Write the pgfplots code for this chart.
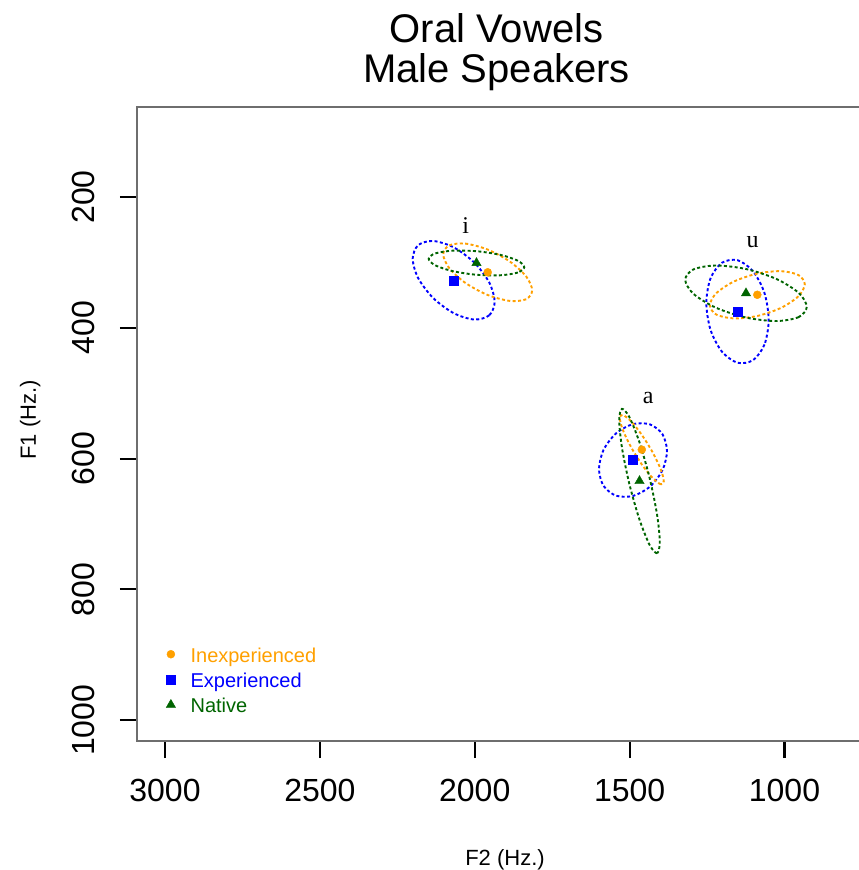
\documentclass[border=0pt]{standalone}
\usepackage{fontspec}
\setmainfont{Liberation Sans}
\newfontfamily\seriffont{Liberation Serif}
\usepackage{pgfplots}
\pgfplotsset{compat=1.18}
\definecolor{rorange}{RGB}{255,160,0}
\definecolor{rblue}{RGB}{0,0,255}
\definecolor{rgreen}{RGB}{0,100,0}
\definecolor{rframe}{RGB}{110,110,110}
\begin{document}
\begin{tikzpicture}[x=1pt,y=1pt]
\begin{axis}[
  at={(0pt,0pt)}, anchor=south west,
  scale only axis, width=722pt, height=634.3pt,
  x dir=reverse, y dir=reverse,
  xmin=759.5, xmax=3090.4, ymin=62, ymax=1031.6,
  axis line style={draw=none},
  xtick={1000,1500,2000,2500,3000},
  ytick={200,400,600,800,1000},
  tick align=outside, xtick pos=bottom, ytick pos=left,
  major tick length=17pt,
  tick style={black, line width=2pt},
  /pgf/number format/assume math mode=true,
  /pgf/number format/1000 sep={},
  ticklabel style={font=\fontsize{32}{37}\selectfont, inner sep=0pt},
  xticklabel style={anchor=north},
  yticklabel style={rotate=90, anchor=south},
  xticklabel shift=21pt, yticklabel shift=25pt,
  legend style={draw=none, fill=none, inner sep=0pt,
    at={(axis description cs:0.0402,0.1482)}, anchor=north west,
    font=\fontsize{20}{24}\selectfont, row sep=5.3pt, column sep=15pt,
    nodes={inner sep=0pt, text height=15pt, text depth=5pt}},
  legend cell align=left,
  legend image code/.code={\draw[#1] plot coordinates {(0pt,3pt)};},
  ellipse/.style={smooth cycle, line width=1.9pt, dash pattern=on 3pt off 2.4pt, forget plot},
]
% ---- ellipses: i
\addplot[ellipse, rblue] coordinates {(1935.6,360.2) (1953.3,380.95) (2001.8,387.35) (2068.0,377.6) (2134.2,354.45) (2182.7,323.95) (2200.4,294.4) (2182.7,273.65) (2134.2,267.25) (2068.0,277.0) (2001.8,300.15) (1953.3,330.65)};
\addplot[ellipse, rorange] coordinates {(1814.5,342.6) (1833.8,356.25) (1886.35,358.9) (1958.2,349.8) (2030.05,331.4) (2082.6,308.65) (2101.9,287.6) (2082.6,273.95) (2030.05,271.3) (1958.2,280.4) (1886.35,298.8) (1833.8,321.55)};
\addplot[ellipse, rgreen] coordinates {(1840.1,307.3) (1860.8,315.45) (1917.25,319.7) (1994.4,318.9) (2071.55,313.3) (2128.0,304.35) (2148.7,294.5) (2128.0,286.35) (2071.55,282.1) (1994.4,282.9) (1917.25,288.5) (1860.8,297.45)};
% ---- ellipses: u
\addplot[ellipse, rblue] coordinates {(1051.0,388.0) (1064.5,425.45) (1101.35,449.4) (1151.7,453.4) (1202.05,436.4) (1238.9,402.95) (1252.4,362.0) (1238.9,324.55) (1202.05,300.6) (1151.7,296.6) (1101.35,313.6) (1064.5,347.05)};
\addplot[ellipse, rorange] coordinates {(934.5,333.4) (955.05,351.75) (1011.15,369.5) (1087.8,381.9) (1164.45,385.6) (1220.55,379.65) (1241.1,365.6) (1220.55,347.25) (1164.45,329.5) (1087.8,317.1) (1011.15,313.4) (955.05,319.35)};
\addplot[ellipse, rgreen] coordinates {(928.0,367.8) (954.3,383.6) (1026.15,389.65) (1124.3,384.3) (1222.45,369.05) (1294.3,347.9) (1320.6,326.6) (1294.3,310.8) (1222.45,304.75) (1124.3,310.1) (1026.15,325.35) (954.3,346.5)};
% ---- ellipses: a
\addplot[ellipse, rblue] coordinates {(1379.3,588.3) (1394.0,617.6) (1434.2,642.75) (1489.1,657.0) (1544.0,656.55) (1584.2,641.5) (1598.9,615.9) (1584.2,586.6) (1544.0,561.45) (1489.1,547.2) (1434.2,547.65) (1394.0,562.7)};
\addplot[ellipse, rorange] coordinates {(1389.7,634.4) (1399.2,639.25) (1425.2,629.85) (1460.7,608.8) (1496.2,581.65) (1522.2,555.75) (1531.7,538.0) (1522.2,533.15) (1496.2,542.55) (1460.7,563.6) (1425.2,590.75) (1399.2,616.65)};
\addplot[ellipse, rgreen] coordinates {(1402.6,727.5) (1411.4,744.5) (1435.35,731.95) (1468.1,693.2) (1500.85,638.65) (1524.8,582.9) (1533.6,540.9) (1524.8,523.9) (1500.85,536.45) (1468.1,575.2) (1435.35,629.75) (1411.4,685.5)};
% ---- means
\addplot[only marks, mark=*, mark size=4pt, color=rorange, mark options={fill=rorange, draw=rorange}]
  coordinates {(1958.2,315.1) (1087.8,349.5) (1460.7,586.2)};
\addlegendentry{\textcolor{rorange}{Inexperienced}}
\addplot[only marks, mark=square*, mark size=4.5pt, color=rblue, mark options={fill=rblue, draw=rblue}]
  coordinates {(2068.0,327.3) (1151.7,375.0) (1489.1,602.1)};
\addlegendentry{\textcolor{rblue}{Experienced}}
\addplot[only marks, mark=triangle*, mark size=5.4pt, color=rgreen, mark options={fill=rgreen, draw=rgreen}]
  coordinates {(1994.4,300.9) (1124.3,347.2) (1468.1,634.2)};
\addlegendentry{\textcolor{rgreen}{Native}}
% vowel labels
\node[anchor=base, font=\seriffont\fontsize{24}{28}\selectfont] at (axis cs:2029.2,255.5) {i};
\node[anchor=base, font=\seriffont\fontsize{24}{28}\selectfont] at (axis cs:1102.7,276.9) {u};
\node[anchor=base, font=\seriffont\fontsize{24}{28}\selectfont] at (axis cs:1439.7,515.4) {a};
\end{axis}
\draw[rframe, line width=2pt] (722pt,634.3pt) -- (0pt,634.3pt) -- (0pt,0pt) -- (722pt,0pt);
\node[anchor=base, font=\fontsize{40}{48}\selectfont] at (359.5pt,698pt) {Oral Vowels};
\node[anchor=base, font=\fontsize{40}{48}\selectfont] at (359.5pt,658pt) {Male Speakers};
\node[anchor=base, font=\fontsize{22}{26}\selectfont] at (368pt,-124pt) {F2 (Hz.)};
\node[anchor=base, rotate=90, font=\fontsize{22}{26}\selectfont] at (-101pt,321pt) {F1 (Hz.)};
\pgfresetboundingbox
\useasboundingbox (-137pt,-129pt) rectangle (722pt,741pt);
\end{tikzpicture}
\end{document}
